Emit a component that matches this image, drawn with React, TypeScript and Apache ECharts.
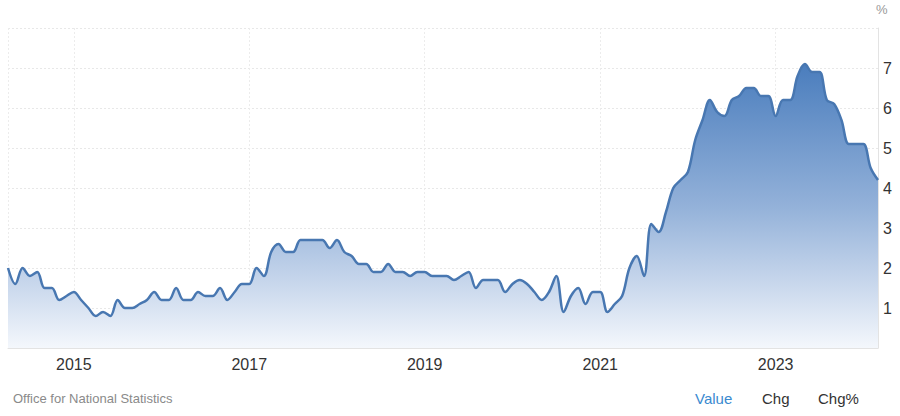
import React, { useEffect, useRef } from "react";
import * as echarts from "echarts";

const startYear = 2014;
const startMonth = 4; // April
const yearLabels = ["2015", "2017", "2019", "2021", "2023"];
const yTicks = [1, 2, 3, 4, 5, 6, 7];
const coreInflation: number[] = [
  // 2014 Apr-Dec
  2.0, 1.6, 2.0, 1.8, 1.9, 1.5, 1.5, 1.2, 1.3,
  // 2015
  1.4, 1.2, 1.0, 0.8, 0.9, 0.8, 1.2, 1.0, 1.0, 1.1, 1.2, 1.4,
  // 2016
  1.2, 1.2, 1.5, 1.2, 1.2, 1.4, 1.3, 1.3, 1.5, 1.2, 1.4, 1.6,
  // 2017
  1.6, 2.0, 1.8, 2.4, 2.6, 2.4, 2.4, 2.7, 2.7, 2.7, 2.7, 2.5,
  // 2018
  2.7, 2.4, 2.3, 2.1, 2.1, 1.9, 1.9, 2.1, 1.9, 1.9, 1.8, 1.9,
  // 2019
  1.9, 1.8, 1.8, 1.8, 1.7, 1.8, 1.9, 1.5, 1.7, 1.7, 1.7, 1.4,
  // 2020
  1.6, 1.7, 1.6, 1.4, 1.2, 1.4, 1.8, 0.9, 1.3, 1.5, 1.1, 1.4,
  // 2021
  1.4, 0.9, 1.1, 1.3, 2.0, 2.3, 1.8, 3.1, 2.9, 3.4, 4.0, 4.2,
  // 2022
  4.4, 5.2, 5.7, 6.2, 5.9, 5.8, 6.2, 6.3, 6.5, 6.5, 6.3, 6.3,
  // 2023
  5.8, 6.2, 6.2, 6.8, 7.1, 6.9, 6.9, 6.2, 6.1, 5.7, 5.1, 5.1,
  // 2024 Jan-Mar
  5.1, 4.5, 4.2,
];
const footerSource = "Office for National Statistics";
const footerTabs = ["Value", "Chg", "Chg%"];

const months: string[] = coreInflation.map((_, i) => {
  const m = startMonth - 1 + i;
  const y = startYear + Math.floor(m / 12);
  const mm = (m % 12) + 1;
  return `${y}-${mm < 10 ? "0" + mm : mm}`;
});

const isLabelMonth = (v: string) =>
  v.endsWith("-01") && yearLabels.includes(v.slice(0, 4));

const FONT = "Arial, 'Liberation Sans', sans-serif";

export default function App() {
  const ref = useRef<HTMLDivElement>(null);
  useEffect(() => {
    if (!ref.current) return;
    const chart = echarts.init(ref.current, undefined, { renderer: "svg" });
    chart.setOption({
      animation: false,
      backgroundColor: "#ffffff",
      grid: { left: 8, right: 22, top: 28, bottom: 68, containLabel: false },
      xAxis: {
        type: "category",
        data: months,
        boundaryGap: false,
        axisLine: { show: true, lineStyle: { color: "#e3e3e3", width: 1 } },
        axisTick: { show: false },
        axisLabel: {
          interval: (i: number, v: string) => isLabelMonth(v),
          formatter: (v: string) => v.slice(0, 4),
          color: "#333333",
          fontSize: 16,
          fontFamily: FONT,
          margin: 8,
        },
        splitLine: {
          show: true,
          interval: (i: number, v: string) => i === 0 || isLabelMonth(v),
          lineStyle: { color: "#ececec", type: [2, 2], width: 1 },
        },
      },
      yAxis: {
        type: "value",
        position: "right",
        min: 0,
        max: 8,
        interval: 1,
        axisLine: { show: true, lineStyle: { color: "#e3e3e3", width: 1 } },
        axisTick: { show: false },
        axisLabel: {
          formatter: (v: number) => (yTicks.includes(v) ? String(v) : ""),
          color: "#333333",
          fontSize: 16,
          fontFamily: FONT,
          margin: 5,
        },
        splitLine: {
          show: true,
          lineStyle: { color: "#e8e8e8", type: [2, 2], width: 1 },
        },
      },
      series: [
        {
          type: "line",
          data: coreInflation,
          smooth: 0.35,
          symbol: "none",
          lineStyle: { color: "#4877b1", width: 2.5 },
          areaStyle: {
            opacity: 1,
            color: new echarts.graphic.LinearGradient(0, 0, 0, 1, [
              { offset: 0, color: "#4a7dbd" },
              { offset: 0.5, color: "#93b1d9" },
              { offset: 1, color: "#f4f7fc" },
            ]),
          },
        },
      ],
      graphic: [
        {
          type: "text",
          left: 876,
          top: 3,
          style: { text: "%", fill: "#999999", fontSize: 13, fontFamily: FONT },
        },
        {
          type: "text",
          left: 13,
          top: 392,
          style: { text: footerSource, fill: "#8a8a8a", fontSize: 13, fontFamily: FONT },
        },
        {
          type: "text",
          left: 695,
          top: 391,
          style: { text: footerTabs[0], fill: "#3a8ad0", fontSize: 15, fontFamily: FONT },
        },
        {
          type: "text",
          left: 762,
          top: 391,
          style: { text: footerTabs[1], fill: "#333333", fontSize: 15, fontFamily: FONT },
        },
        {
          type: "text",
          left: 818,
          top: 391,
          style: { text: footerTabs[2], fill: "#333333", fontSize: 15, fontFamily: FONT },
        },
      ],
    });
    return () => chart.dispose();
  }, []);
  return (
    <div
      ref={ref}
      style={{ position: "absolute", left: 0, top: 0, width: 900, height: 416 }}
    />
  );
}
